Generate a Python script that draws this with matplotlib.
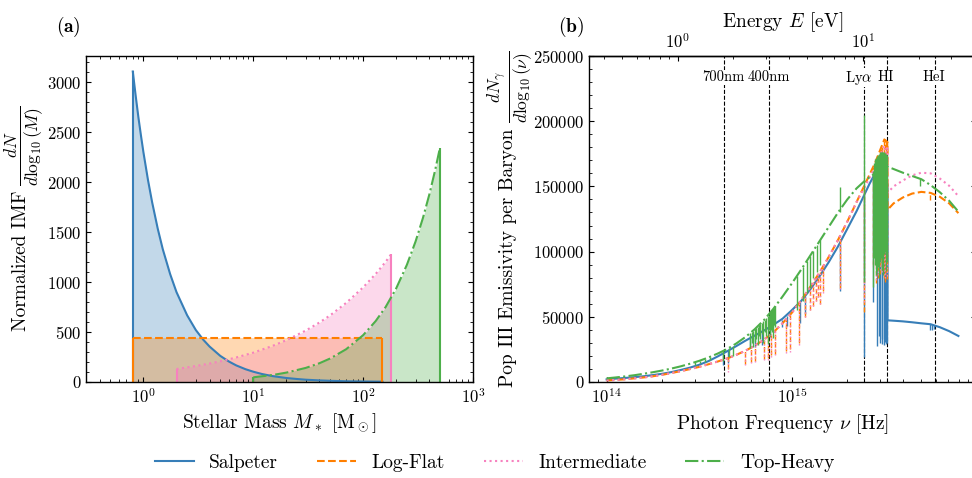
import numpy as np
import matplotlib
matplotlib.use("Agg")
import matplotlib.pyplot as plt
from matplotlib.lines import Line2D
from matplotlib.ticker import MultipleLocator, NullFormatter, FixedLocator, LogLocator
import matplotlib.transforms as mtrans

plt.rcParams.update({
    "font.family": "cmr10",
    "mathtext.fontset": "cm",
    "axes.formatter.use_mathtext": True,
    "axes.unicode_minus": False,
    "font.size": 12,
    "xtick.direction": "in", "ytick.direction": "in",
    "xtick.top": True, "ytick.right": True,
    "xtick.minor.visible": True, "ytick.minor.visible": True,
    "axes.linewidth": 1.0,
})

# ---------------- data ----------------
NAMES = ["Salpeter", "Log-Flat", "Intermediate", "Top-Heavy"]
COLORS = ["#377eb8", "#ff7f00", "#f781bf", "#4daf4a"]
STYLES = ["-", "--", ":", "-."]

# (a) IMFs : stellar mass [Msun] and dN/dlog10(M)
SAL_M = [0.8, 0.85, 0.9, 0.95, 1.0, 1.1, 1.2, 1.35, 1.5, 1.75, 2, 2.5, 3, 3.5, 4, 5, 6, 7,
         8.5, 10, 12, 15, 20, 25, 30, 40, 50, 70, 100, 150]
SAL_N = [3110, 2866, 2650, 2466, 2300, 2023, 1800, 1535, 1330, 1081, 900, 668, 520, 424, 355,
         262, 205, 166, 128, 103, 80, 59, 40, 30, 23, 16, 12, 7.4, 5, 3]
FLAT_M = [0.8, 150]
FLAT_N = [443, 443]
INT_M = [2, 3, 4, 5, 7, 10, 15, 20, 30, 40, 50, 70, 100, 130, 160, 180]
INT_N = [130, 160, 185, 207, 246, 294, 362, 419, 515, 596, 667, 792, 948, 1082, 1203, 1280]
TOP_M = [10, 15, 20, 30, 40, 50, 70, 100, 130, 160, 200, 250, 300, 350, 400, 450, 500]
TOP_N = [47, 70, 94, 141, 188, 235, 328, 469, 610, 750, 938, 1173, 1407, 1642, 1876, 2111, 2345]

# (b) emissivity spectra : log10(nu [Hz]) and dN/dlog10(nu)
SAL_LNU = [14.00, 14.05, 14.10, 14.15, 14.20, 14.25, 14.30, 14.35, 14.40, 14.45, 14.50, 14.55,
           14.60, 14.65, 14.70, 14.75, 14.80, 14.85, 14.90, 14.95, 15.00, 15.05, 15.10, 15.15,
           15.20, 15.25, 15.30, 15.35, 15.39, 15.42, 15.45, 15.48, 15.517, 15.517, 15.55, 15.60,
           15.65, 15.70, 15.75, 15.80, 15.85, 15.90]
SAL_E = [2000, 2600, 3100, 3700, 4400, 5300, 6300, 7600, 9200, 11000, 13200, 16000,
         19600, 23500, 27500, 31700, 35600, 39500, 43800, 48500, 55000, 62000, 71000, 81000,
         92000, 104000, 117500, 131000, 143000, 152000, 160000, 156000, 152000, 47300, 47000, 46500,
         45800, 45000, 44300, 42000, 39000, 35300]

FLAT_LNU = [14.00, 14.05, 14.10, 14.15, 14.20, 14.25, 14.30, 14.35, 14.40, 14.45, 14.50, 14.55,
            14.60, 14.65, 14.70, 14.75, 14.80, 14.85, 14.90, 14.95, 15.00, 15.05, 15.10, 15.15,
            15.20, 15.25, 15.30, 15.35, 15.40, 15.45, 15.50, 15.517, 15.517, 15.55, 15.60, 15.65,
            15.70, 15.75, 15.80, 15.85, 15.90]
FLAT_E = [1200, 1600, 2100, 2800, 3500, 4400, 5500, 6900, 8300, 9900, 11600, 13600,
          15700, 18000, 20800, 24000, 27800, 32500, 38000, 45000, 53000, 62500, 73000, 84000,
          96000, 109000, 123000, 138000, 153000, 168000, 186000, 184000, 132000, 137000, 141500, 144500,
          145800, 145000, 142000, 137000, 129500]

INT_LNU = [14.00, 14.05, 14.10, 14.15, 14.20, 14.25, 14.30, 14.35, 14.40, 14.45, 14.50, 14.55,
           14.60, 14.65, 14.70, 14.75, 14.80, 14.85, 14.90, 14.95, 15.00, 15.05, 15.10, 15.15,
           15.20, 15.25, 15.30, 15.35, 15.40, 15.45, 15.50, 15.517, 15.517, 15.55, 15.60, 15.65,
           15.70, 15.75, 15.80, 15.85, 15.90]
INT_E = [1200, 1600, 2100, 2800, 3500, 4400, 5500, 6900, 8300, 9900, 11600, 13600,
         15700, 18000, 20800, 24000, 27800, 32500, 38000, 45000, 53000, 62500, 73000, 84000,
         96000, 109000, 123000, 138000, 151000, 165000, 181000, 179000, 145000, 150000, 154500, 158500,
         160500, 160000, 156000, 150500, 142500]

TOP_LNU = [14.00, 14.05, 14.10, 14.15, 14.20, 14.25, 14.30, 14.35, 14.40, 14.45, 14.50, 14.55,
           14.60, 14.65, 14.70, 14.75, 14.80, 14.85, 14.90, 14.95, 15.00, 15.05, 15.10, 15.15,
           15.20, 15.25, 15.30, 15.35, 15.40, 15.45, 15.50, 15.52, 15.60, 15.70, 15.75, 15.80,
           15.85, 15.90]
TOP_E = [2800, 3500, 4300, 5200, 6300, 7500, 8800, 10300, 12000, 14000, 16200, 18800,
         21800, 25200, 29500, 34500, 40500, 47500, 56000, 65500, 75500, 86000, 97000, 108000,
         119000, 130000, 140000, 148500, 155000, 160000, 164500, 165000, 160500, 155500, 151000, 145500,
         139000, 130600]

# spectral lines: (log10 nu, upper value, lower value)
SAL_LINES = [(14.630, 22000, 13000), (14.658, 24500, 14300), (14.775, 33500, 25800),
             (14.800, 35600, 27000), (14.837, 38500, 28400), (14.883, 42000, 34700),
             (14.946, 47500, 42400), (14.973, 50500, 43000), (15.045, 61500, 45000),
             (15.072, 66000, 52000), (15.260, 106500, 70000), (15.391, 143500, 19400),
             (15.438, 157000, 61300), (15.460, 158500, 27600), (15.470, 157500, 35000),
             (15.478, 157000, 30000), (15.485, 156000, 29000), (15.490, 155000, 33000),
             (15.497, 154000, 28500), (15.503, 153500, 31000), (15.508, 153000, 29500),
             (15.513, 152000, 30000), (15.745, 44500, 40000), (15.755, 44300, 39500),
             (15.770, 43800, 41000)]
FLAT_LINES = [(14.658, 18400, 10000), (14.748, 23900, 14000), (14.780, 26200, 15000),
              (14.800, 27800, 16000), (14.850, 32500, 17500), (14.870, 34700, 18500),
              (14.890, 36900, 20500), (14.910, 39500, 21500), (14.970, 47800, 23500),
              (14.990, 51300, 25000), (15.040, 60600, 30000), (15.072, 67000, 50000),
              (15.099, 72800, 55000), (15.117, 77000, 58000), (15.130, 79500, 62000),
              (15.140, 81700, 65000), (15.153, 84700, 60000), (15.170, 88800, 70000),
              (15.260, 111800, 72000), (15.391, 150000, 54000), (15.440, 165000, 90000),
              (15.455, 170000, 76000), (15.465, 173000, 80000), (15.475, 177000, 83000),
              (15.480, 179000, 92000), (15.490, 182000, 86000), (15.497, 185000, 80000),
              (15.503, 186000, 77000), (15.510, 185500, 84000), (15.515, 184500, 79000),
              (15.748, 145000, 139500)]
INT_LINES = [(14.658, 18400, 8000), (14.748, 23900, 13000), (14.780, 26200, 14500),
             (14.800, 27800, 15000), (14.850, 32500, 16500), (14.870, 34700, 17000),
             (14.890, 36900, 19400), (14.910, 39500, 20500), (14.970, 47800, 22000),
             (14.990, 51300, 23000), (15.040, 60600, 28000), (15.072, 67000, 50000),
             (15.099, 72800, 55000), (15.117, 77000, 58000), (15.130, 79500, 62000),
             (15.140, 81700, 65000), (15.153, 84700, 60000), (15.170, 88800, 68000),
             (15.260, 111800, 71000), (15.391, 149000, 61600), (15.440, 163000, 88000),
             (15.455, 167000, 78000), (15.465, 170000, 82000), (15.475, 173000, 86000),
             (15.480, 175000, 90000), (15.490, 178000, 84000), (15.497, 180000, 82000),
             (15.503, 181000, 80000), (15.510, 180500, 86000), (15.515, 179500, 81000)]
TOP_LINES = [(14.478, 15000, 13000), (14.505, 16300, 14500), (14.530, 17500, 15500),
             (14.560, 19300, 17000), (14.630, 23700, 16000), (14.660, 26000, 19000),
             (14.680, 27700, 20000), (14.775, 37300, 26000), (14.783, 38200, 30000),
             (14.790, 39200, 27000), (14.800, 40500, 31000), (14.808, 41500, 33000),
             (14.815, 42500, 28500), (14.823, 43500, 35000), (14.830, 44500, 33000),
             (14.838, 45600, 37000), (14.845, 46800, 30000), (14.853, 47900, 38000),
             (14.860, 49000, 35000), (14.870, 50700, 29500), (14.875, 51500, 40000),
             (14.880, 52400, 36000), (14.885, 53300, 42000), (14.890, 54200, 40000),
             (14.895, 55100, 38000), (14.900, 56000, 34000), (14.905, 57000, 44000),
             (14.910, 57900, 42000), (15.027, 81000, 55200), (15.060, 88200, 62000),
             (15.080, 92600, 68000), (15.099, 96800, 72000), (15.117, 100800, 80000),
             (15.135, 104700, 84000), (15.153, 108700, 90000), (15.261, 149300, 130000),
             (15.391, 205000, 77000), (15.440, 162000, 73000), (15.445, 168000, 95000),
             (15.450, 171000, 90000), (15.455, 172000, 82000), (15.460, 173000, 85000),
             (15.465, 174000, 88000), (15.470, 175000, 80800), (15.475, 176000, 92000),
             (15.480, 176000, 95000), (15.485, 176500, 86000), (15.490, 176600, 88000),
             (15.495, 176000, 82000), (15.500, 176000, 98000), (15.505, 175500, 100000),
             (15.510, 175000, 85000), (15.515, 174000, 92000), (15.695, 156000, 150000)]

# reference lines: label, log10 nu, label offset [pt]
REF_NAMES = ["700nm", "400nm", r"Ly$\alpha$", "HI", "HeI"]
REF_LNU = [14.632, 14.875, 15.392, 15.517, 15.774]
REF_DX = [0, 0, -4, -1, -1]

E_TICKS = [1, 10]
H_EV = 4.135667696e-15  # eV s

# ---------------- figure ----------------
W, H = 972, 478
fig = plt.figure(figsize=(W / 100, H / 100), dpi=100)
axL = fig.add_axes([86 / W, 96 / H, 387 / W, 326 / H])
axR = fig.add_axes([589 / W, 96 / H, 387 / W, 326 / H])

# (a)
imfs = [(SAL_M, SAL_N), (FLAT_M, FLAT_N), (INT_M, INT_N), (TOP_M, TOP_N)]
for (m, n), c, ls in zip(imfs, COLORS, STYLES):
    axL.plot(m, n, color=c, ls=ls, lw=1.5)
    axL.fill_between(m, 0, n, color=c, alpha=0.3, lw=0)
    axL.vlines([m[0], m[-1]], 0, [n[0], n[-1]], color=c, lw=1.5)
axL.set_xscale("log")
axL.set_xlim(0.3, 1000)
axL.set_ylim(0, 3265)
axL.yaxis.set_major_locator(MultipleLocator(500))
axL.yaxis.set_minor_locator(MultipleLocator(100))
axL.set_xlabel(r"Stellar Mass $M_*$ [M$_\odot$]", fontsize=14)
fig.text(21 / W, 1 - 261 / H, "Normalized IMF", rotation=90, ha="center", va="center", fontsize=14)
fig.text(24 / W, 1 - 146 / H, r"$\frac{dN}{d\log_{10}(M)}$", rotation=90, ha="center",
         va="center", fontsize=18)

# (b)
blend = mtrans.blended_transform_factory(axR.transData, axR.transAxes)
for name, lnu, dx in zip(REF_NAMES, REF_LNU, REF_DX):
    axR.axvline(10 ** lnu, color="k", ls="--", lw=0.8, zorder=1)
    axR.annotate(name, xy=(10 ** lnu, 0.934), xycoords=blend, xytext=(dx, 0),
                 textcoords="offset points", ha="center", va="center", fontsize=10.5,
                 bbox=dict(facecolor="white", edgecolor="none", pad=0.5), zorder=3)

spectra = [(SAL_LNU, SAL_E, SAL_LINES), (FLAT_LNU, FLAT_E, FLAT_LINES),
           (INT_LNU, INT_E, INT_LINES), (TOP_LNU, TOP_E, TOP_LINES)]
for (lnu, e, lines), c, ls in zip(spectra, COLORS, STYLES):
    nu = 10 ** np.asarray(lnu)
    axR.plot(nu, e, color=c, ls=ls, lw=1.5, zorder=2)
    ln = np.array(lines)
    axR.vlines(10 ** ln[:, 0], ln[:, 2], ln[:, 1], color=c, lw=1.0,
               linestyles="-" if ls in ("-", "-.") else ls, zorder=2)

axR.set_xscale("log")
axR.set_xlim(10 ** 13.905, 10 ** 15.995)
axR.set_ylim(0, 250000)
axR.yaxis.set_major_locator(MultipleLocator(50000))
axR.yaxis.set_minor_locator(MultipleLocator(10000))
axR.tick_params(axis="x", which="both", top=False)
axR.set_xlabel(r"Photon Frequency $\nu$ [Hz]", fontsize=14)
fig.text(508 / W, 1 - 258 / H, "Pop III Emissivity per Baryon", rotation=90, ha="center",
         va="center", fontsize=14)
fig.text(510 / W, 1 - 87 / H, r"$\frac{dN_\gamma}{d\log_{10}(\nu)}$", rotation=90, ha="center",
         va="center", fontsize=18)

sec = axR.secondary_xaxis("top", functions=(lambda x: x * H_EV, lambda x: x / H_EV))
sec.xaxis.set_major_locator(FixedLocator(E_TICKS))
sec.xaxis.set_minor_locator(LogLocator(base=10, subs=np.arange(2, 10)))
sec.xaxis.set_minor_formatter(NullFormatter())
sec.tick_params(axis="x", which="both", direction="in")
sec.set_xlabel(r"Energy $E$ [eV]", fontsize=14)

fig.text(68 / W, 1 - 27 / H, r"$\mathbf{(a)}$", ha="center", va="center", fontsize=14)
fig.text(571 / W, 1 - 27 / H, r"$\mathbf{(b)}$", ha="center", va="center", fontsize=14)

handles = [Line2D([], [], color=c, ls=ls, lw=1.5) for c, ls in zip(COLORS, STYLES)]
fig.legend(handles, NAMES, loc="center", bbox_to_anchor=(494.5 / W, 15 / H), ncol=4,
           frameon=False, fontsize=14)

fig.savefig("out.png", dpi=100)
